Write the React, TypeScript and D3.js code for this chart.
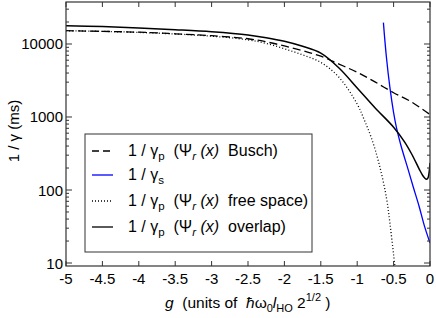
import React from "react";
import * as d3 from "d3";

const W = 436;
const H = 318;

// Busch (dashed)
const gBusch = [-5, -4.5, -4, -3.5, -3, -2.5, -2.25, -2, -1.75, -1.5, -1.25, -1, -0.75, -0.5, -0.25, 0];
const vBusch = [15200, 14900, 14500, 13800, 13000, 11800, 10700, 9400, 8100, 6800, 5300, 4100, 3000, 2150, 1600, 1080];

// gamma_s (blue)
const gS = [-0.64, -0.6, -0.55, -0.5, -0.46, -0.4, -0.3, -0.23, -0.15, -0.08, 0];
const vS = [19600, 6800, 2500, 1150, 710, 410, 190, 110, 60, 33, 18.8];

// free space (dotted)
const gFree = [-5, -4.5, -4, -3.5, -3, -2.5, -2.25, -2, -1.75, -1.5, -1.25, -1, -0.9, -0.8, -0.7, -0.6, -0.55, -0.5, -0.47];
const vFree = [15200, 14900, 14400, 13700, 12800, 11400, 10200, 8600, 7100, 5600, 3500, 1500, 900, 500, 230, 80, 35, 13, 7];

// overlap (solid)
const gOver = [-5, -4.5, -4, -3.5, -3, -2.5, -2.25, -2, -1.75, -1.5, -1.25, -1, -0.75, -0.5, -0.35, -0.25, -0.15, -0.1, -0.07, -0.05, -0.03, -0.015, 0];
const vOver = [17800, 17300, 16600, 15700, 14700, 13300, 12200, 10900, 9300, 7500, 4700, 2500, 1320, 725, 457, 309, 195, 158, 145, 140, 145, 166, 235];

const xTicks = [-5, -4.5, -4, -3.5, -3, -2.5, -2, -1.5, -1, -0.5, 0];
const yMajor = [10, 100, 1000, 10000];

const FONT = "'Liberation Sans', Arial, Helvetica, sans-serif";

export default function App() {
  const left = 66, right = 430, top = 2, bottom = 266;
  const x = d3.scaleLinear().domain([-5, 0]).range([left, right]);
  const y = d3.scaleLog().domain([9.1, 37600]).range([bottom, top]);

  const mk = (gs: number[], vs: number[]) =>
    d3.line<number>()
      .x((_, i) => x(gs[i]))
      .y((v) => y(v))
      .curve(d3.curveCatmullRom.alpha(0.5))(vs) || "";

  const yMinor: number[] = [];
  for (const dec of [10, 100, 1000, 10000]) {
    for (let k = 2; k <= 9; k++) {
      const v = dec * k;
      if (v < 37600) yMinor.push(v);
    }
  }

  const axisColor = "#333";
  const legendRows = [
    { y: 151, dash: "7,4", color: "#000", label: "Busch)", kind: "p" },
    { y: 175, dash: "", color: "#0000ff", label: "", kind: "s" },
    { y: 201, dash: "1,2", color: "#000", label: "free space)", kind: "p" },
    { y: 227, dash: "", color: "#000", label: "overlap)", kind: "p" },
  ];

  return (
    <div style={{ position: "fixed", left: 0, top: 0 }}>
      <svg width={W} height={H} xmlns="http://www.w3.org/2000/svg" style={{ display: "block", background: "#fff" }}>
        <defs>
          <clipPath id="plotclip">
            <rect x={left} y={top} width={right - left} height={bottom - top} />
          </clipPath>
        </defs>
        <g clipPath="url(#plotclip)" fill="none">
          <path d={mk(gFree, vFree)} stroke="#000" strokeWidth={1.3} strokeDasharray="1,2.2" />
          <path d={mk(gBusch, vBusch)} stroke="#000" strokeWidth={1.3} strokeDasharray="8,4" />
          <path d={mk(gS, vS)} stroke="#0000ff" strokeWidth={1.3} />
          <path d={mk(gOver, vOver)} stroke="#000" strokeWidth={1.5} />
        </g>

        {/* frame */}
        <rect x={left} y={top} width={right - left} height={bottom - top} fill="none" stroke={axisColor} strokeWidth={1.2} />

        {/* x ticks */}
        {xTicks.map((t) => (
          <g key={"xt" + t}>
            <line x1={x(t)} x2={x(t)} y1={bottom} y2={bottom - 5} stroke={axisColor} strokeWidth={1} />
            <line x1={x(t)} x2={x(t)} y1={top} y2={top + 5} stroke={axisColor} strokeWidth={1} />
            <text x={x(t)} y={284} textAnchor="middle" fontFamily={FONT} fontSize={15} fill="#000">
              {t === 0 ? "0" : String(t)}
            </text>
          </g>
        ))}

        {/* y ticks */}
        {yMajor.map((t) => (
          <g key={"ym" + t}>
            <line x1={left} x2={left + 6} y1={y(t)} y2={y(t)} stroke={axisColor} strokeWidth={1} />
            <line x1={right} x2={right - 6} y1={y(t)} y2={y(t)} stroke={axisColor} strokeWidth={1} />
            <text x={left - 3} y={y(t) + 5.5} textAnchor="end" fontFamily={FONT} fontSize={15} fill="#000">
              {String(t)}
            </text>
          </g>
        ))}
        {yMinor.map((t) => (
          <g key={"yn" + t}>
            <line x1={left} x2={left + 3} y1={y(t)} y2={y(t)} stroke={axisColor} strokeWidth={1} />
            <line x1={right} x2={right - 3} y1={y(t)} y2={y(t)} stroke={axisColor} strokeWidth={1} />
          </g>
        ))}

        {/* y label */}
        <text transform={`translate(19,131) rotate(-90)`} textAnchor="middle" fontFamily={FONT} fontSize={15} fill="#000">
          1 / γ (ms)
        </text>

        {/* x label */}
        <text x={165} y={308} fontFamily={FONT} fontSize={15.5} fill="#000">
          <tspan fontStyle="italic">g</tspan>
          <tspan>{"\u00a0 (units of \u00a0"}</tspan>
          <tspan fontStyle="italic">ħ</tspan>
          <tspan>ω</tspan>
          <tspan fontSize={11} dy={4}>0</tspan>
          <tspan fontStyle="italic" dy={-4}>l</tspan>
          <tspan fontSize={11} dy={4}>HO</tspan>
          <tspan dy={-4}>{"\u00a02"}</tspan>
          <tspan fontSize={11} dy={-7}>1/2</tspan>
          <tspan dy={7}>{"\u00a0)"}</tspan>
        </text>

        {/* legend */}
        <rect x={85} y={134} width={227} height={118} fill="#fff" stroke={axisColor} strokeWidth={1} />
        {legendRows.map((r, i) => (
          <g key={"lg" + i}>
            <line x1={92} x2={113} y1={r.y} y2={r.y} stroke={r.color} strokeWidth={1.3} strokeDasharray={r.dash || undefined} />
            <text x={128} y={r.y + 5} fontFamily={FONT} fontSize={16} fill="#000">
              <tspan>{"1 / γ"}</tspan>
              <tspan fontSize={11.5} dy={4}>{r.kind}</tspan>
              {r.kind === "p" ? (
                <>
                  <tspan dy={-4}>{"\u00a0 (Ψ"}</tspan>
                  <tspan fontSize={11.5} dy={4} fontStyle="italic">r</tspan>
                  <tspan dy={-4} fontStyle="italic">{"\u00a0(x)"}</tspan>
                  <tspan>{"\u00a0 " + r.label}</tspan>
                </>
              ) : null}
            </text>
          </g>
        ))}
      </svg>
    </div>
  );
}
